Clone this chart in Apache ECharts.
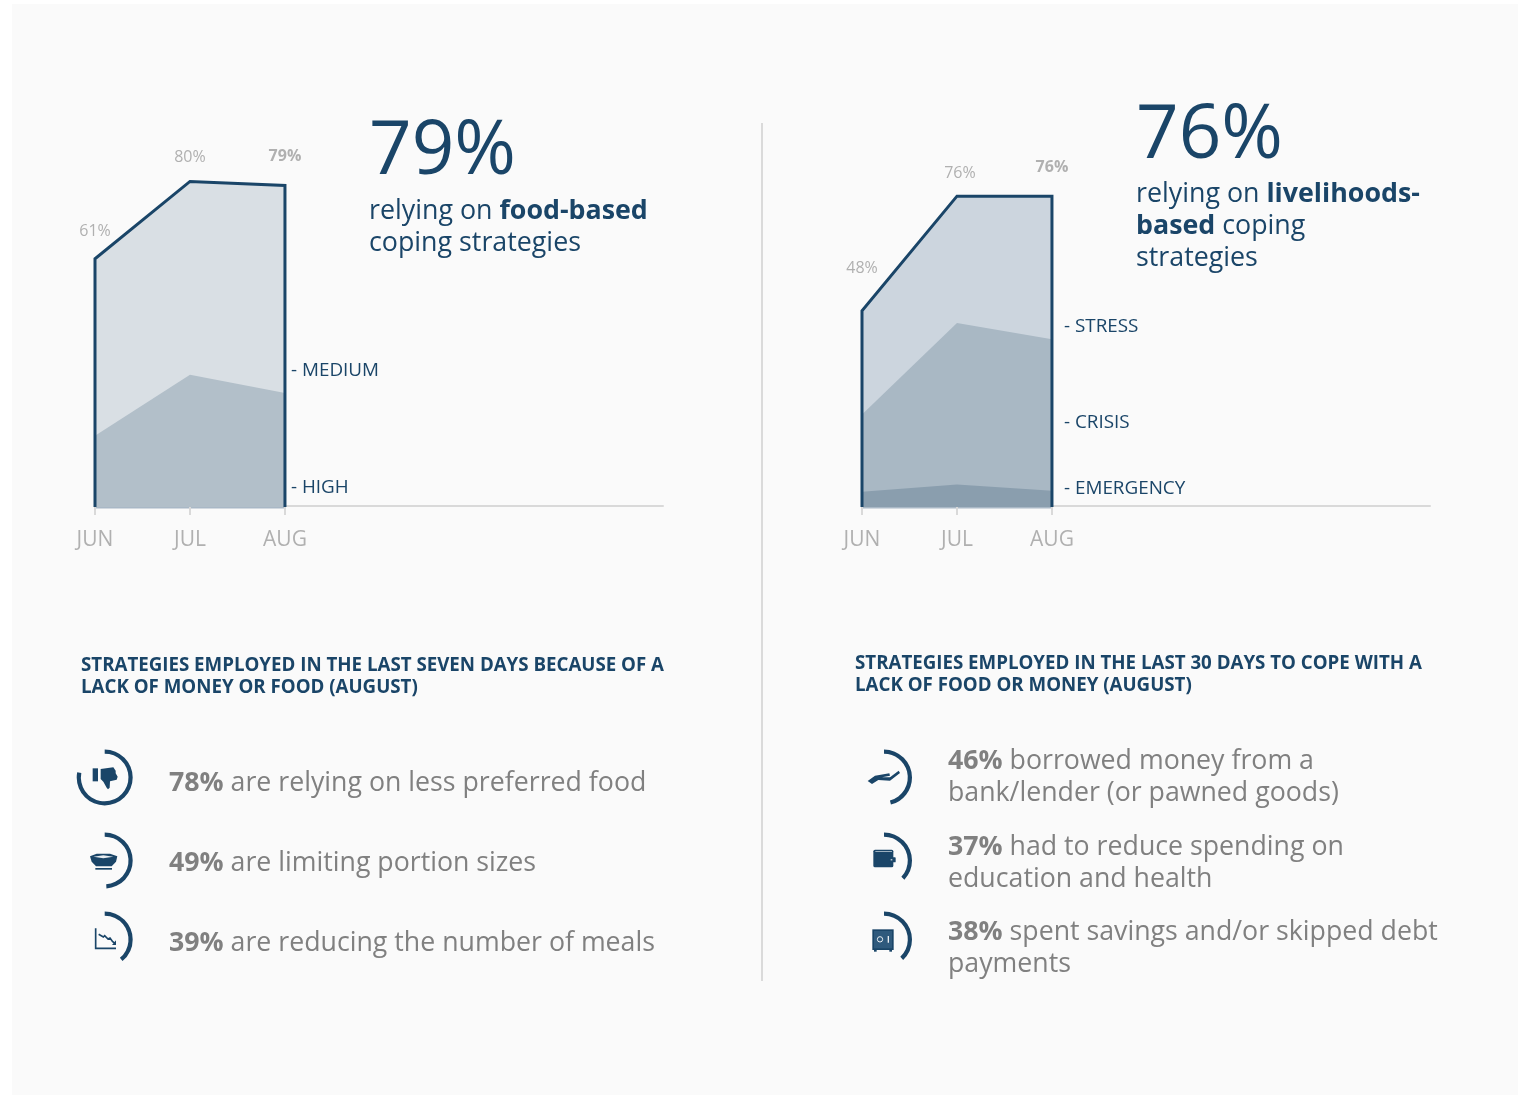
<!DOCTYPE html>
<html>
<head>
<meta charset="utf-8">
<style>
  html, body { margin: 0; padding: 0; background: #ffffff; }
  #panel { position: absolute; left: 12px; top: 4px; width: 1506px; height: 1091px; background: #fafafa; }
  #chart { position: absolute; left: 0; top: 0; width: 1521px; height: 1095px; }
</style>
<script src="https://cdn.jsdelivr.net/npm/echarts@6/dist/echarts.min.js"></script>
</head>
<body>
<div id="panel"></div>
<div id="chart"></div>
<script>
// Coping strategy prevalence, percent of households
const months = ['JUN', 'JUL', 'AUG'];
const foodTotal = [61, 80, 79];
const foodHigh = [17.5, 32.5, 28];
const livelihoodTotal = [48, 76, 76];
const livelihoodCrisis = [22.6, 45, 41];
const livelihoodEmergency = [3.7, 5.5, 4];

const foodShares = [78, 49, 39];
const foodTexts = [
  ['are relying on less preferred food'],
  ['are limiting portion sizes'],
  ['are reducing the number of meals']
];
const livelihoodShares = [46, 37, 38];
const livelihoodTexts = [
  ['borrowed money from a', 'bank/lender (or pawned goods)'],
  ['had to reduce spending on', 'education and health'],
  ['spent savings and/or skipped debt', 'payments']
];

const NAVY = '#1a4568';
const GREY = '#808080';
const TICK = '#b0b0b0';
const FONT = '"Open Sans", sans-serif';
const LIST_SIZE = 26.72;
const SUB_SIZE = 26.8;
const HEAD_SIZE = 18.72;
const TAG_SIZE = 18.85;

const pairs = vals => vals.map((v, i) => [i, v]);

function areaSeries(idx, name, vals, color) {
  return {
    type: 'line', name, xAxisIndex: idx, yAxisIndex: idx,
    data: pairs(vals), symbol: 'none', silent: true,
    lineStyle: { width: 0 }, areaStyle: { color, opacity: 1 }
  };
}

// Filled envelope of the total, carrying the monthly labels
function totalSeries(idx, name, vals, color, shifts) {
  return {
    type: 'line', name, xAxisIndex: idx, yAxisIndex: idx, silent: true,
    symbol: 'circle', symbolSize: 1, showSymbol: true, showAllSymbol: true,
    itemStyle: { color: NAVY }, lineStyle: { width: 0 }, areaStyle: { color, opacity: 1 },
    data: vals.map((v, i) => ({
      value: [i, v],
      label: {
        show: true, position: 'top', offset: shifts[i],
        formatter: v + '%', color: TICK, fontFamily: FONT, fontSize: 16,
        fontWeight: i === 2 ? 700 : 400
      }
    }))
  };
}

// Outline closing the total's shape down to the baseline
function outlineSeries(idx, vals) {
  const pts = [[0, 0]].concat(pairs(vals), [[vals.length - 1, 0]]);
  return {
    type: 'line', xAxisIndex: idx, yAxisIndex: idx, data: pts, symbol: 'none', silent: true,
    z: 5, lineStyle: { color: NAVY, width: 3, join: 'miter' }
  };
}

function ringSeries(share, cx, cy) {
  return {
    type: 'pie', center: [cx, cy], radius: [23.8, 28], startAngle: 90, clockwise: true,
    silent: true, label: { show: false }, labelLine: { show: false }, emphasis: { disabled: true },
    data: [
      { value: share, itemStyle: { color: NAVY } },
      { value: 100 - share, itemStyle: { color: 'rgba(0,0,0,0)' } }
    ]
  };
}

function xAxisFor(idx) {
  return {
    type: 'value', gridIndex: idx, min: 0, max: 5.98, offset: -1, splitLine: { show: false },
    axisLine: { show: true, lineStyle: { color: '#d9d9d9', width: 2 } },
    axisTick: { show: true, customValues: [0, 1, 2], length: 9, lineStyle: { color: '#d9d9d9', width: 2 } },
    axisLabel: {
      customValues: [0, 1, 2], formatter: v => months[v], color: TICK,
      fontFamily: FONT, fontSize: 21, margin: 24
    }
  };
}

function yAxisFor(idx) {
  return { type: 'value', gridIndex: idx, min: 0, max: 100, show: false };
}

function label(text, x, y, size, color, weight) {
  return {
    type: 'text', x, y, silent: true,
    style: { text, fill: color, font: (weight || 400) + ' ' + size + 'px ' + FONT, textVerticalAlign: 'middle' }
  };
}

function mixed(boldPart, rest, x, y, size, color, tail) {
  const base = { fill: color, fontFamily: FONT, fontSize: size };
  const before = tail ? '{n|' + rest + '}{b|' + boldPart + '}' : '{b|' + boldPart + '}{n|' + rest + '}';
  return {
    type: 'text', x, y, silent: true,
    style: {
      text: before, textVerticalAlign: 'middle', fill: color,
      rich: { n: Object.assign({ fontWeight: 400 }, base), b: Object.assign({ fontWeight: 700 }, base) }
    }
  };
}

function listLines(shares, texts, x, ys) {
  const out = [];
  shares.forEach((s, i) => {
    out.push(mixed(s + '%', ' ' + texts[i][0], x, ys[i][0], LIST_SIZE, GREY));
    if (texts[i][1]) out.push(label(texts[i][1], x, ys[i][1], LIST_SIZE, GREY));
  });
  return out;
}

// Small pictograms; shapes are described on a 3x canvas and shrunk in place
function icon(originX, originY, children) {
  return { type: 'group', x: originX, y: originY, scaleX: 1 / 3, scaleY: 1 / 3, silent: true, children };
}
const poly = (points, fill) => ({ type: 'polygon', shape: { points }, style: { fill: fill || NAVY } });
const stroke = (points, w) => ({ type: 'polyline', shape: { points }, style: { stroke: NAVY, lineWidth: w || 4, fill: 'none' } });
const box = (x, y, width, height, fill, r) => ({ type: 'rect', shape: { x, y, width, height, r: r || 0 }, style: { fill: fill || NAVY } });

const thumbIcon = icon(60, 735, [
  box(98, 100, 16, 39),
  poly([[122, 102], [160, 97], [167, 107], [167, 115], [173, 125], [170, 134], [150, 139], [149, 158], [144, 163], [140, 158], [130, 140], [122, 132]])
]);
const bowlIcon = icon(60, 735, [
  poly([[90, 364], [110, 356], [150, 356], [172, 364], [168, 380], [155, 394], [108, 394], [95, 380]]),
  poly([[100, 365], [130, 361], [160, 365], [130, 370]], '#e8edf1'),
  box(106, 399, 50, 5)
]);
const trendIcon = icon(60, 735, [
  stroke([[107, 580], [107, 640], [168, 640]], 5),
  stroke([[116, 598], [130, 606], [134, 602], [144, 612], [150, 609], [158, 620], [166, 626]], 5),
  poly([[156, 630], [168, 616], [168, 630]])
]);
const handIcon = icon(850, 735, [
  poly([[53, 138], [75, 122], [118, 115], [120, 122], [96, 127], [120, 127], [146, 107], [150, 114], [120, 137], [85, 135], [66, 147]])
]);
const walletIcon = icon(850, 735, [
  box(70, 344, 60, 53, NAVY, 5),
  box(76, 348, 50, 2, '#dfe6ec'),
  box(118, 367, 19, 15, NAVY, 2),
  box(122, 373, 5, 3, '#ffffff')
]);
const safeIcon = icon(850, 735, [
  box(72, 644, 8, 6),
  box(118, 644, 8, 6),
  box(67, 583, 64, 62),
  box(72, 588, 54, 52, '#2f5a7d'),
  { type: 'circle', shape: { cx: 90, cy: 613, r: 8 }, style: { fill: 'none', stroke: '#e8edf1', lineWidth: 3 } },
  box(113, 603, 4, 20, '#e8edf1')
]);

// Tinted rule running under the three plotted months
const underRule = (x1, x2) => ({
  type: 'line', shape: { x1, y1: 507.8, x2, y2: 507.8 }, silent: true,
  style: { stroke: '#a9b8c6', lineWidth: 1.5 }
});

const graphicElements = [
  { type: 'line', shape: { x1: 762, y1: 123, x2: 762, y2: 981 }, silent: true, style: { stroke: '#cfcfcf', lineWidth: 1.5 } },
  underRule(95, 285),
  underRule(862, 1052),

  label('79%', 369, 153, 74.6, NAVY, 400),
  mixed('food-based', 'relying on ', 369, 211, SUB_SIZE, NAVY, true),
  label('coping strategies', 369, 243, SUB_SIZE, NAVY),
  label('- MEDIUM', 291, 371, TAG_SIZE, NAVY),
  label('- HIGH', 291, 488, TAG_SIZE, NAVY),

  label('76%', 1136, 137, 74.6, NAVY, 400),
  mixed('livelihoods-', 'relying on ', 1136, 194, SUB_SIZE, NAVY, true),
  mixed('based', ' coping', 1136, 226, SUB_SIZE, NAVY),
  label('strategies', 1136, 258, SUB_SIZE, NAVY),
  label('- STRESS', 1064, 327, TAG_SIZE, NAVY),
  label('- CRISIS', 1064, 423, TAG_SIZE, NAVY),
  label('- EMERGENCY', 1064, 489, TAG_SIZE, NAVY),

  label('STRATEGIES EMPLOYED IN THE LAST SEVEN DAYS BECAUSE OF A', 81, 666, HEAD_SIZE, NAVY, 700),
  label('LACK OF MONEY OR FOOD (AUGUST)', 81, 688, HEAD_SIZE, NAVY, 700),
  label('STRATEGIES EMPLOYED IN THE LAST 30 DAYS TO COPE WITH A', 855, 664, HEAD_SIZE, NAVY, 700),
  label('LACK OF FOOD OR MONEY (AUGUST)', 855, 686, HEAD_SIZE, NAVY, 700),

  ...listLines(foodShares, foodTexts, 169, [[783], [863], [943]]),
  ...listLines(livelihoodShares, livelihoodTexts, 948, [[761, 793], [847, 879], [932, 964]]),

  thumbIcon, bowlIcon, trendIcon, handIcon, walletIcon, safeIcon
];

const chart = echarts.init(document.getElementById('chart'), null, { renderer: 'canvas' });
chart.setOption({
  animation: false,
  backgroundColor: 'transparent',
  grid: [
    { left: 95, top: 100, width: 568, height: 407 },
    { left: 862, top: 98, width: 568, height: 409 }
  ],
  xAxis: [xAxisFor(0), xAxisFor(1)],
  yAxis: [yAxisFor(0), yAxisFor(1)],
  series: [
    totalSeries(0, 'Medium', foodTotal, '#d9dfe4', [[0, -14], [0, -10], [0, -16]]),
    areaSeries(0, 'High', foodHigh, '#b2bfc9'),
    outlineSeries(0, foodTotal),
    totalSeries(1, 'Stress', livelihoodTotal, '#ccd5de', [[0, -29], [3, -9], [0, -15]]),
    areaSeries(1, 'Crisis', livelihoodCrisis, '#a9b8c4'),
    areaSeries(1, 'Emergency', livelihoodEmergency, '#8a9eae'),
    outlineSeries(1, livelihoodTotal),
    ringSeries(foodShares[0], 104.7, 777.5),
    ringSeries(foodShares[1], 104.7, 860.5),
    ringSeries(foodShares[2], 104.7, 939.5),
    ringSeries(livelihoodShares[0], 884, 777.5),
    ringSeries(livelihoodShares[1], 884, 860.5),
    ringSeries(livelihoodShares[2], 884, 939.5)
  ],
  graphic: { elements: graphicElements }
});
</script>
</body>
</html>
